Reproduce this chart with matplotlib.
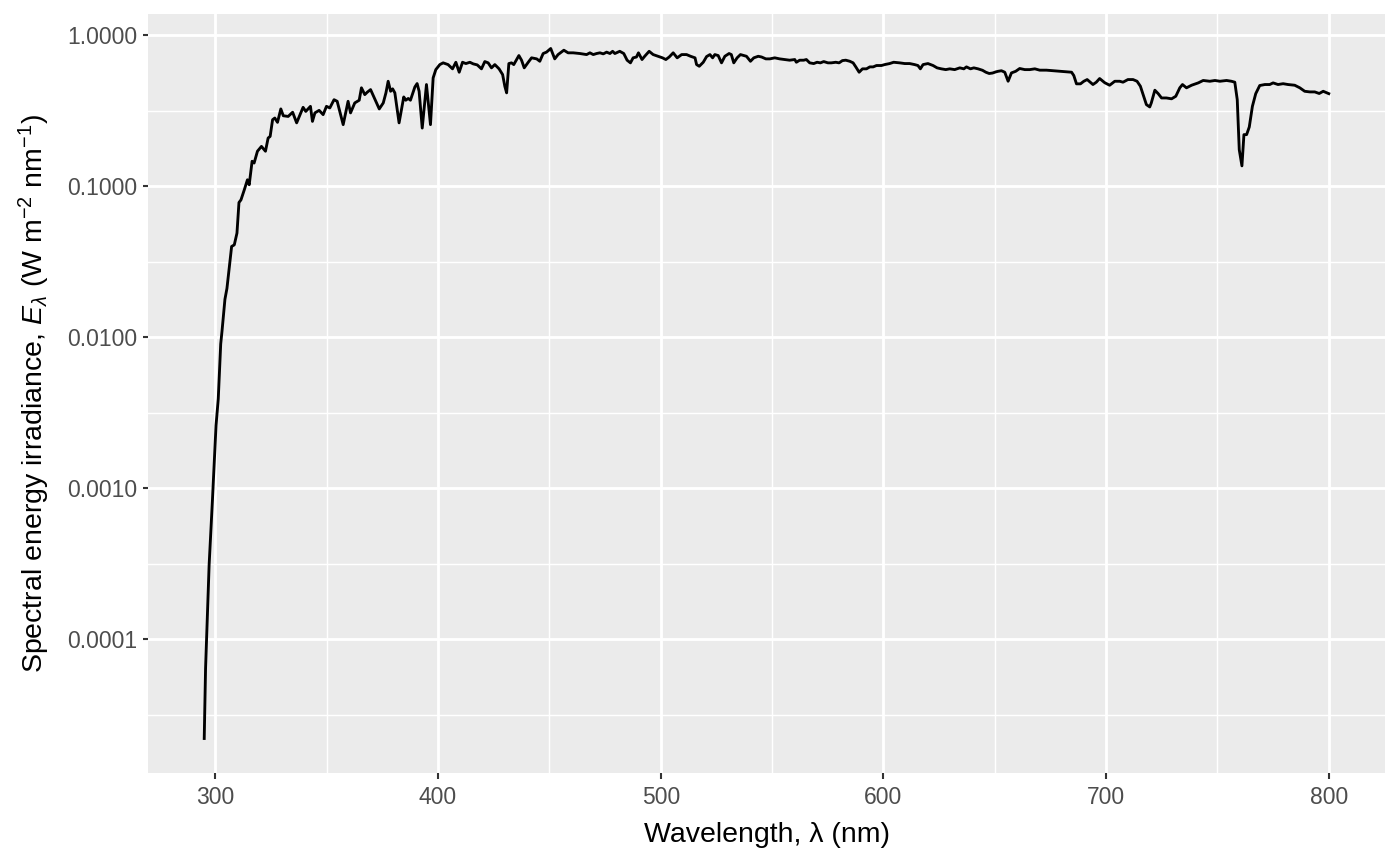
import numpy as np
import matplotlib
matplotlib.use("Agg")
import matplotlib.pyplot as plt
from matplotlib.ticker import FixedLocator, FuncFormatter

# ---- data ----
wavelength = [
    295.0, 295.6, 297.2, 298.7, 300.3, 301.3, 302.4, 303.0, 304.3, 305.2,
    307.3, 308.5, 309.7, 310.6, 311.5, 313.0, 314.4, 315.2, 316.5, 317.4,
    318.9, 320.7, 322.5, 323.7, 324.6, 325.7, 326.7, 327.9, 329.4, 330.5,
    332.7, 334.7, 336.5, 339.4, 340.6, 342.7, 343.6, 344.7, 346.6, 348.4,
    349.9, 351.4, 353.3, 354.7, 357.4, 359.6, 360.7, 362.6, 364.6, 365.6,
    367.1, 368.2, 369.7, 373.6, 375.4, 376.6, 377.6, 378.7, 379.6, 380.6,
    382.5, 384.6, 385.5, 386.6, 387.6, 389.6, 390.6, 391.5, 392.9, 394.8,
    396.6, 397.8, 399.0, 400.8, 402.3, 404.5, 406.5, 408.0, 409.5, 411.0,
    412.5, 414.3, 415.8, 417.6, 419.5, 421.0, 422.5, 424.0, 425.5, 427.4,
    429.0, 430.0, 430.8, 431.8, 433.0, 434.0, 436.3, 437.5, 438.7, 440.5,
    442.0, 444.3, 445.7, 447.2, 448.7, 450.6, 452.4, 453.9, 456.5, 458.4,
    460.7, 463.7, 466.7, 468.2, 469.7, 471.2, 472.7, 474.2, 475.7, 477.2,
    478.4, 479.4, 481.6, 483.4, 484.9, 486.4, 487.6, 489.1, 490.0, 491.6,
    492.8, 494.8, 496.6, 498.8, 500.8, 502.3, 503.8, 505.6, 507.4, 509.4,
    511.6, 513.4, 515.4, 516.1, 517.3, 519.1, 520.6, 522.1, 523.3, 524.3,
    525.8, 527.3, 528.8, 530.7, 531.7, 532.8, 534.3, 535.8, 537.3, 538.5,
    540.3, 541.8, 543.8, 545.3, 547.2, 549.0, 551.2, 553.4, 555.7, 557.9,
    560.2, 560.9, 562.4, 564.2, 565.4, 566.9, 568.7, 570.2, 571.7, 573.2,
    575.1, 576.6, 578.6, 580.1, 581.6, 583.1, 584.9, 586.4, 587.6, 589.1,
    590.6, 592.4, 593.9, 595.4, 596.9, 599.1, 600.6, 602.8, 604.6, 607.3,
    609.6, 611.8, 614.0, 615.5, 616.6, 617.8, 620.0, 622.3, 624.1, 626.0,
    628.0, 629.8, 632.0, 634.3, 636.1, 637.3, 639.1, 640.6, 642.5, 644.5,
    646.0, 647.5, 649.0, 650.5, 651.5, 653.0, 654.5, 656.0, 657.5, 659.4,
    661.2, 663.5, 665.7, 668.0, 670.2, 673.2, 676.2, 679.2, 682.2, 684.5,
    685.5, 686.7, 688.5, 690.0, 691.5, 694.1, 695.6, 697.1, 699.4, 701.6,
    703.9, 706.1, 707.6, 709.8, 712.1, 713.9, 715.4, 716.9, 718.1, 719.6,
    720.3, 721.9, 723.4, 724.9, 727.1, 729.4, 731.3, 733.1, 734.3, 736.1,
    738.4, 741.4, 743.6, 746.6, 748.9, 751.1, 754.1, 756.3, 757.8, 758.9,
    759.8, 761.0, 761.9, 763.1, 764.3, 765.7, 767.2, 769.0, 771.3, 773.5,
    775.0, 777.2, 779.5, 781.7, 784.7, 787.0, 789.2, 791.5, 793.7, 795.7,
    797.5, 800.0,
]
irradiance = [
    2.2e-5, 6.4e-5, 3.1e-4, 8.4e-4, 2.6e-3, 3.9e-3, 9.0e-3, 0.011, 0.0178, 0.021,
    0.0398, 0.0408, 0.0488, 0.0778, 0.081, 0.0945, 0.110, 0.102, 0.146, 0.142,
    0.170, 0.183, 0.170, 0.208, 0.213, 0.275, 0.282, 0.264, 0.324, 0.292,
    0.289, 0.308, 0.262, 0.332, 0.312, 0.337, 0.268, 0.305, 0.317, 0.297,
    0.337, 0.329, 0.373, 0.364, 0.255, 0.364, 0.305, 0.355, 0.370, 0.447,
    0.403, 0.418, 0.435, 0.324, 0.355, 0.414, 0.494, 0.424, 0.440, 0.414,
    0.262, 0.389, 0.370, 0.380, 0.370, 0.453, 0.477, 0.424, 0.242, 0.470,
    0.255, 0.520, 0.590, 0.637, 0.654, 0.637, 0.597, 0.660, 0.567, 0.660,
    0.647, 0.660, 0.644, 0.634, 0.597, 0.667, 0.654, 0.606, 0.637, 0.597,
    0.547, 0.457, 0.414, 0.647, 0.654, 0.637, 0.731, 0.681, 0.606, 0.660,
    0.706, 0.695, 0.670, 0.754, 0.770, 0.814, 0.695, 0.742, 0.793, 0.762,
    0.762, 0.754, 0.742, 0.762, 0.742, 0.754, 0.762, 0.750, 0.770, 0.754,
    0.780, 0.754, 0.780, 0.754, 0.681, 0.654, 0.706, 0.715, 0.762, 0.688,
    0.723, 0.780, 0.742, 0.723, 0.706, 0.688, 0.715, 0.762, 0.706, 0.742,
    0.742, 0.723, 0.706, 0.637, 0.621, 0.660, 0.720, 0.742, 0.706, 0.742,
    0.731, 0.654, 0.723, 0.754, 0.742, 0.654, 0.706, 0.742, 0.731, 0.723,
    0.670, 0.706, 0.723, 0.715, 0.695, 0.695, 0.706, 0.695, 0.688, 0.681,
    0.688, 0.660, 0.681, 0.681, 0.688, 0.654, 0.647, 0.660, 0.654, 0.667,
    0.654, 0.654, 0.660, 0.654, 0.677, 0.681, 0.670, 0.654, 0.615, 0.567,
    0.597, 0.597, 0.615, 0.615, 0.628, 0.628, 0.637, 0.647, 0.660, 0.654,
    0.647, 0.647, 0.637, 0.628, 0.597, 0.637, 0.647, 0.628, 0.606, 0.597,
    0.590, 0.597, 0.590, 0.606, 0.597, 0.615, 0.597, 0.606, 0.597, 0.584,
    0.567, 0.556, 0.560, 0.570, 0.575, 0.580, 0.567, 0.494, 0.561, 0.575,
    0.600, 0.590, 0.590, 0.597, 0.585, 0.585, 0.580, 0.575, 0.570, 0.567,
    0.539, 0.475, 0.475, 0.494, 0.507, 0.470, 0.487, 0.515, 0.483, 0.465,
    0.494, 0.494, 0.487, 0.507, 0.507, 0.494, 0.458, 0.393, 0.346, 0.334,
    0.355, 0.431, 0.409, 0.383, 0.383, 0.378, 0.393, 0.447, 0.470, 0.447,
    0.465, 0.482, 0.500, 0.494, 0.500, 0.494, 0.500, 0.494, 0.487, 0.373,
    0.174, 0.136, 0.219, 0.219, 0.246, 0.337, 0.409, 0.463, 0.470, 0.470,
    0.482, 0.470, 0.476, 0.470, 0.465, 0.447, 0.424, 0.420, 0.420, 0.410,
    0.424, 0.409,
]
x_breaks = [300, 400, 500, 600, 700, 800]
y_breaks = [1e-4, 1e-3, 1e-2, 1e-1, 1.0]
x_label = "Wavelength, λ (nm)"
y_label = r"Spectral energy irradiance, $\mathit{E}_{\lambda}$ (W m$^{-2}$ nm$^{-1}$)"

# ---- style ----
S = 1.44
plt.rcParams["font.family"] = ["Liberation Sans", "DejaVu Sans"]
plt.rcParams["mathtext.fontset"] = "custom"
plt.rcParams["mathtext.rm"] = "Liberation Sans"
plt.rcParams["mathtext.it"] = "Liberation Sans:italic"
plt.rcParams["mathtext.bf"] = "Liberation Sans:bold"

fig = plt.figure(figsize=(14, 8.66), dpi=100)
ax = fig.add_axes([148 / 1400, 1 - 773 / 866, (1385 - 148) / 1400, (773 - 14) / 866])
ax.set_facecolor("#EBEBEB")
for s in ax.spines.values():
    s.set_visible(False)

ax.plot(wavelength, irradiance, color="black", lw=0.5 * 2.845 * S, solid_joinstyle="round", zorder=3)

ax.set_yscale("log")
wl = np.array(wavelength)
lg = np.log10(np.array(irradiance))
xr = wl.max() - wl.min()
ax.set_xlim(wl.min() - 0.05 * xr, wl.max() + 0.05 * xr)
yr = lg.max() - lg.min()
ax.set_ylim(10 ** (lg.min() - 0.05 * yr), 10 ** (lg.max() + 0.05 * yr))

ax.xaxis.set_major_locator(FixedLocator(x_breaks))
ax.xaxis.set_minor_locator(FixedLocator([b + 50 for b in x_breaks[:-1]]))
ax.yaxis.set_major_locator(FixedLocator(y_breaks))
minor_y = [10 ** (np.log10(b) + 0.5) for b in y_breaks[:-1]] + [10 ** -4.5]
ax.yaxis.set_minor_locator(FixedLocator(minor_y))
ax.yaxis.set_major_formatter(FuncFormatter(lambda v, p: f"{v:.4f}"))
ax.yaxis.set_minor_formatter(FuncFormatter(lambda v, p: ""))

ax.grid(which="major", color="white", lw=0.5 * 2.845 * S)
ax.grid(which="minor", color="white", lw=0.25 * 2.845 * S)
ax.set_axisbelow(True)

ax.tick_params(which="major", length=2.75 * S, width=1.5, color="#333333",
               labelcolor="#4D4D4D", labelsize=16.5, pad=3.5)
ax.tick_params(axis="x", which="major", pad=5.5)
ax.tick_params(which="minor", length=0)

ax.set_xlabel(x_label, fontsize=20.5, color="black", labelpad=9)
ax.set_ylabel(y_label, fontsize=20.5, color="black", labelpad=11)

fig.savefig("out.png", dpi=100, facecolor="white")
